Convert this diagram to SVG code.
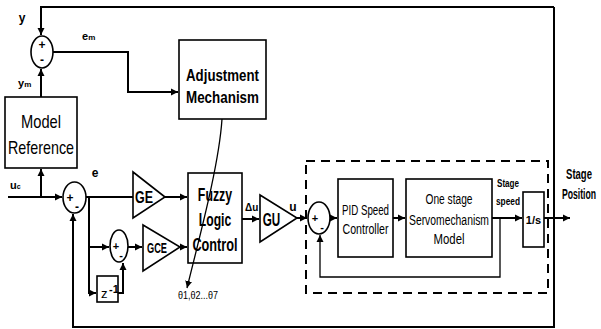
<svg xmlns="http://www.w3.org/2000/svg" width="601" height="329" viewBox="0 0 601 329">
<defs>
<marker id="ah" markerUnits="userSpaceOnUse" markerWidth="8" markerHeight="8" refX="7" refY="4" orient="auto">
<path d="M0,0.5 L7,4 L0,7.5 Z" fill="#000"/>
</marker>
<style>
.ln{fill:none;stroke:#000;stroke-width:2}
.thin{fill:none;stroke:#000;stroke-width:1.3}
.bx{fill:#fff;stroke:#000;stroke-width:1.6}
.t{font-family:"Liberation Sans",Arial,sans-serif;fill:#000;text-anchor:middle}
.b{font-weight:bold}
.l{font-family:"Liberation Sans",Arial,sans-serif;fill:#000}
</style>
</defs>
<rect width="601" height="329" fill="#fff"/>
<g id="sum1">
<ellipse cx="42" cy="52" rx="11" ry="16" class="bx"/>
<text class="t b" x="42" y="49" font-size="12">+</text>
<text class="t b" x="42" y="64" font-size="12">-</text>
</g>
<g id="sum2">
<ellipse cx="74.5" cy="197.5" rx="11.5" ry="15.5" class="bx"/>
<text class="t b" x="70" y="202" font-size="12">+</text>
<text class="t b" x="77" y="211" font-size="12">-</text>
</g>
<g id="sum3">
<ellipse cx="119" cy="246" rx="9" ry="16" class="bx"/>
<text class="t b" x="116" y="250" font-size="11">+</text>
<text class="t b" x="121" y="259" font-size="11">-</text>
</g>
<g id="sum4">
<ellipse cx="319" cy="218" rx="11" ry="16" class="bx"/>
<text class="t b" x="315" y="222" font-size="11">+</text>
<text class="t b" x="322" y="231" font-size="11">-</text>
</g>
<g id="model-reference">
<rect x="5" y="97" width="72" height="71" class="bx"/>
<text class="t" x="41" y="128" font-size="19" textLength="40" lengthAdjust="spacingAndGlyphs">Model</text>
<text class="t" x="41" y="154" font-size="19" textLength="66" lengthAdjust="spacingAndGlyphs">Reference</text>
</g>
<g id="adjustment">
<rect x="179" y="40" width="87" height="79" class="bx"/>
<text class="t b" x="222.5" y="81" font-size="17" textLength="73" lengthAdjust="spacingAndGlyphs">Adjustment</text>
<text class="t b" x="222.5" y="103" font-size="17" textLength="73" lengthAdjust="spacingAndGlyphs">Mechanism</text>
</g>
<g id="ge">
<path d="M133,172 L165,197 L133,218 Z" class="bx"/>
<text class="t b" x="144" y="203" font-size="17" textLength="18" lengthAdjust="spacingAndGlyphs">GE</text>
</g>
<g id="gce">
<path d="M143,225 L180,247 L143,271 Z" class="bx"/>
<text class="t b" x="157" y="253" font-size="14" textLength="20" lengthAdjust="spacingAndGlyphs">GCE</text>
</g>
<g id="zinv">
<rect x="97" y="276" width="21" height="26" class="bx"/>
<text class="l" x="101" y="298" font-size="13">z</text>
<text class="l b" x="109" y="293" font-size="11">-1</text>
</g>
<g id="flc">
<rect x="188" y="173" width="54" height="90" class="bx"/>
<text class="t b" transform="translate(215,201) scale(0.65,1)" font-size="19">Fuzzy</text>
<text class="t b" transform="translate(215,226) scale(0.64,1)" font-size="19">Logic</text>
<text class="t b" transform="translate(215,251) scale(0.67,1)" font-size="19">Control</text>
</g>
<g id="gu">
<path d="M260,195 L297,218 L260,242 Z" class="bx"/>
<text class="t b" transform="translate(271.5,226) scale(0.65,1)" font-size="18">GU</text>
</g>
<g id="pid">
<rect x="338" y="179" width="55" height="78" class="bx"/>
<text class="t" x="365.5" y="215" font-size="14" textLength="47" lengthAdjust="spacingAndGlyphs">PID Speed</text>
<text class="t" x="365.5" y="234" font-size="14" textLength="46" lengthAdjust="spacingAndGlyphs">Controller</text>
</g>
<g id="servo">
<rect x="406" y="179" width="86" height="78" class="bx"/>
<text class="t" x="449" y="204" font-size="14" textLength="47" lengthAdjust="spacingAndGlyphs">One stage</text>
<text class="t" x="449" y="225" font-size="14" textLength="80" lengthAdjust="spacingAndGlyphs">Servomechanism</text>
<text class="t" x="449" y="244" font-size="14" textLength="31" lengthAdjust="spacingAndGlyphs">Model</text>
</g>
<g id="integrator">
<rect x="523" y="192" width="21" height="55" class="bx"/>
<text class="t b" x="533.5" y="224" font-size="11">1/s</text>
</g>
<g id="labels">
<text class="t b" x="22" y="22" font-size="12">y</text>
<text class="l b" x="82" y="40" font-size="11">e<tspan font-size="8">m</tspan></text>
<text class="l b" x="18" y="87" font-size="11">y<tspan font-size="8">m</tspan></text>
<text class="l b" x="10" y="189" font-size="11">u<tspan font-size="7">c</tspan></text>
<text class="t b" x="95" y="177" font-size="12">e</text>
<text class="l b" x="245" y="211" font-size="10">Δu</text>
<text class="t b" x="293" y="211" font-size="12">u</text>
<text class="l" x="178" y="299" font-size="10" textLength="40" lengthAdjust="spacingAndGlyphs">θ1,θ2...θ7</text>
<text class="t b" x="508" y="187" font-size="11" textLength="22" lengthAdjust="spacingAndGlyphs">Stage</text>
<text class="t b" x="508" y="205" font-size="11" textLength="24" lengthAdjust="spacingAndGlyphs">speed</text>
<text class="t b" transform="translate(579,179) scale(0.68,1)" font-size="14">Stage</text>
<text class="t b" transform="translate(579,199) scale(0.62,1)" font-size="14">Position</text>
</g>
<g id="connectors">
<path class="ln" d="M554,7 H41 V35" marker-end="url(#ah)"/>
<path class="ln" d="M554,7 V327 H73 V214" marker-end="url(#ah)"/>
<path class="ln" d="M53,52 H128 V92 H178" marker-end="url(#ah)"/>
<path class="ln" d="M41,97 V69" marker-end="url(#ah)"/>
<path class="ln" d="M8,197 H62" marker-end="url(#ah)"/>
<path class="ln" d="M41,197 V169" marker-end="url(#ah)"/>
<path class="ln" d="M86,197 H133"/>
<path class="ln" d="M165,197 H187" marker-end="url(#ah)"/>
<path class="ln" d="M89,197 V293 H96" marker-end="url(#ah)"/>
<path class="ln" d="M89,247 H109" marker-end="url(#ah)"/>
<path class="ln" d="M118,293 H123 V263" marker-end="url(#ah)"/>
<path class="ln" d="M128,247 H142" marker-end="url(#ah)"/>
<path class="ln" d="M180,247 H187" marker-end="url(#ah)"/>
<path class="ln" d="M242,219 H259" marker-end="url(#ah)"/>
<path class="ln" d="M297,218 H307" marker-end="url(#ah)"/>
<path class="ln" d="M330,218 H337" marker-end="url(#ah)"/>
<path class="ln" d="M393,218 H405" marker-end="url(#ah)"/>
<path class="ln" d="M492,218 H522" marker-end="url(#ah)"/>
<path class="thin" d="M500,218 V277 H320 V235" marker-end="url(#ah)"/>
<path class="ln" d="M544,218 H570" marker-end="url(#ah)"/>
<path class="thin" d="M222,119 C219,165 200,235 187,288" marker-end="url(#ah)"/>
<rect x="306" y="161" width="242" height="132" fill="none" stroke="#000" stroke-width="2" stroke-dasharray="9,6"/>
</g>
</svg>
